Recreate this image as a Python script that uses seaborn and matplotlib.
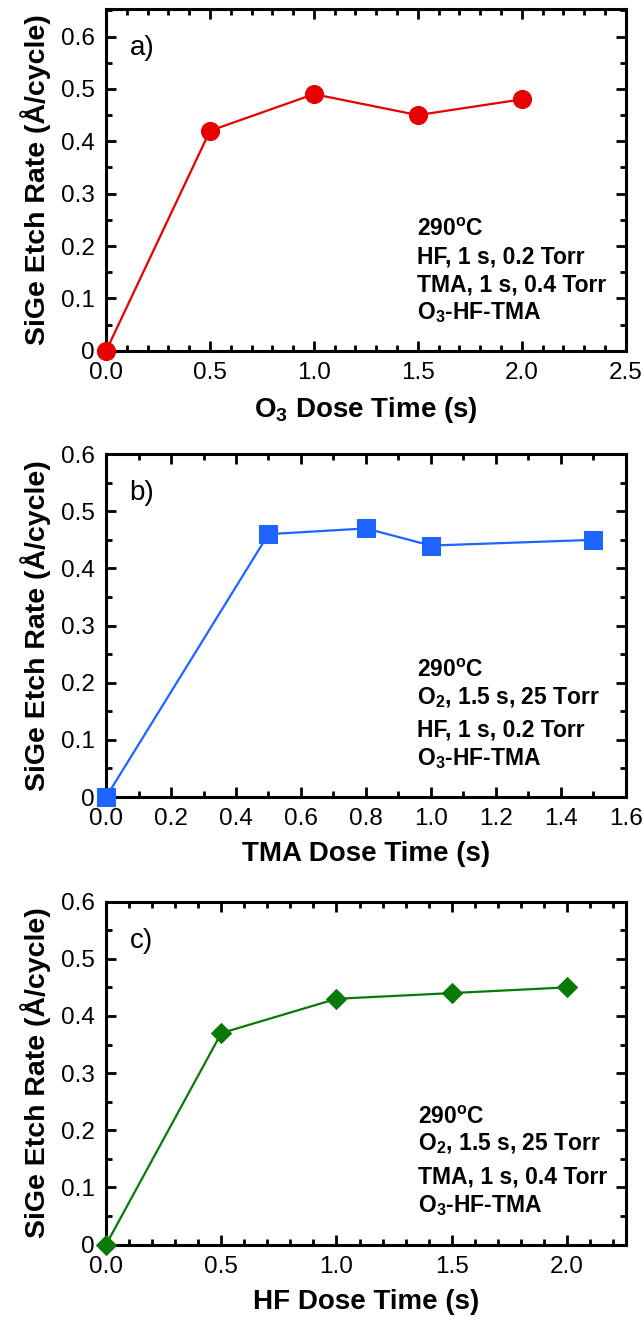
import matplotlib
matplotlib.use("Agg")
import matplotlib.pyplot as plt
import seaborn as sns
import pandas as pd
from matplotlib.ticker import MultipleLocator, FuncFormatter

# ---- data ----
o3_time = [0.0, 0.5, 1.0, 1.5, 2.0]
o3_rate = [0.0, 0.42, 0.49, 0.45, 0.48]

tma_time = [0.0, 0.5, 0.8, 1.0, 1.5]
tma_rate = [0.0, 0.46, 0.47, 0.44, 0.45]

hf_time = [0.0, 0.5, 1.0, 1.5, 2.0]
hf_rate = [0.0, 0.37, 0.43, 0.44, 0.45]

panel_tags = ["a)", "b)", "c)"]
x_labels = ["O$_\\mathregular{3}$ Dose Time (s)", "TMA Dose Time (s)", "HF Dose Time (s)"]
y_label = "SiGe Etch Rate (Å/cycle)"
notes_a = ["290$^{\\mathregular{o}}$C", "HF, 1 s, 0.2 Torr", "TMA, 1 s, 0.4 Torr", "O$_\\mathregular{3}$-HF-TMA"]
notes_b = ["290$^{\\mathregular{o}}$C", "O$_\\mathregular{2}$, 1.5 s, 25 Torr", "HF, 1 s, 0.2 Torr", "O$_\\mathregular{3}$-HF-TMA"]
notes_c = ["290$^{\\mathregular{o}}$C", "O$_\\mathregular{2}$, 1.5 s, 25 Torr", "TMA, 1 s, 0.4 Torr", "O$_\\mathregular{3}$-HF-TMA"]

sns.set_style("ticks")
plt.rcParams['font.family'] = ['Liberation Sans', 'DejaVu Sans']
plt.rcParams['text.color'] = 'black'
plt.rcParams['axes.labelcolor'] = 'black'
plt.rcParams['xtick.color'] = 'black'
plt.rcParams['ytick.color'] = 'black'
plt.rcParams['mathtext.fontset'] = 'custom'
plt.rcParams['mathtext.rm'] = 'Liberation Sans'
plt.rcParams['mathtext.bf'] = 'Liberation Sans:bold'
plt.rcParams['mathtext.default'] = 'regular'

fig = plt.figure(figsize=(6.43, 13.24), dpi=100)

L, R = 0.165, 0.973
boxes = [(0.735, 0.993), (0.398, 0.657), (0.060, 0.319)]

specs = [
    dict(x=o3_time, y=o3_rate, color="#E60000", marker="o", ms=13, xlim=(0, 2.5), ylim=(0, 0.652),
         xmaj=0.5, notes=notes_a, nx=0.598, ny=[0.354, 0.274, 0.193, 0.113]),
    dict(x=tma_time, y=tma_rate, color="#1E64FF", marker="s", ms=12.5, xlim=(0, 1.6), ylim=(0, 0.6),
         xmaj=0.2, notes=notes_b, nx=0.598, ny=[0.370, 0.289, 0.195, 0.113]),
    dict(x=hf_time, y=hf_rate, color="#087A08", marker="D", ms=10, xlim=(0, 2.255), ylim=(0, 0.6),
         xmaj=0.5, notes=notes_c, nx=0.601, ny=[0.371, 0.293, 0.196, 0.113]),
]

for i, (sp, (b, t)) in enumerate(zip(specs, boxes)):
    ax = fig.add_axes([L, b, R - L, t - b])
    df = pd.DataFrame({"x": sp["x"], "y": sp["y"]})
    sns.lineplot(data=df, x="x", y="y", ax=ax, color=sp["color"], marker=sp["marker"],
                 markersize=sp["ms"], markeredgecolor=sp["color"], linewidth=1.6, clip_on=False, zorder=5)
    ax.set_xlim(*sp["xlim"])
    ax.set_ylim(*sp["ylim"])
    ax.xaxis.set_major_locator(MultipleLocator(sp["xmaj"]))
    ax.xaxis.set_minor_locator(MultipleLocator(0.1))
    ax.yaxis.set_major_locator(MultipleLocator(0.1))
    ax.yaxis.set_minor_locator(MultipleLocator(0.05))
    ax.xaxis.set_major_formatter(FuncFormatter(lambda v, p: f"{v:.1f}"))
    ax.yaxis.set_major_formatter(FuncFormatter(lambda v, p: "0" if abs(v) < 1e-9 else f"{v:.1f}"))
    ax.tick_params(which="both", direction="in", top=True, right=True, width=2.0, colors="black")
    ax.tick_params(which="major", length=7, labelsize=17.5, pad=8)
    ax.tick_params(which="minor", length=4)
    for s in ax.spines.values():
        s.set_linewidth(2.2)
        s.set_color("black")
    ax.set_xlabel(x_labels[i], fontsize=20, fontweight="bold", labelpad=8)
    ax.set_ylabel(y_label, fontsize=20.5, fontweight="bold", labelpad=7)
    ax.text(0.045, 0.886, panel_tags[i], transform=ax.transAxes, fontsize=20, va="center", ha="left")
    for line, yy in zip(sp["notes"], sp["ny"]):
        ax.text(sp["nx"], yy, line, transform=ax.transAxes, fontsize=16.5, fontweight="bold",
                va="center", ha="left")

fig.savefig("out.png", dpi=100)
